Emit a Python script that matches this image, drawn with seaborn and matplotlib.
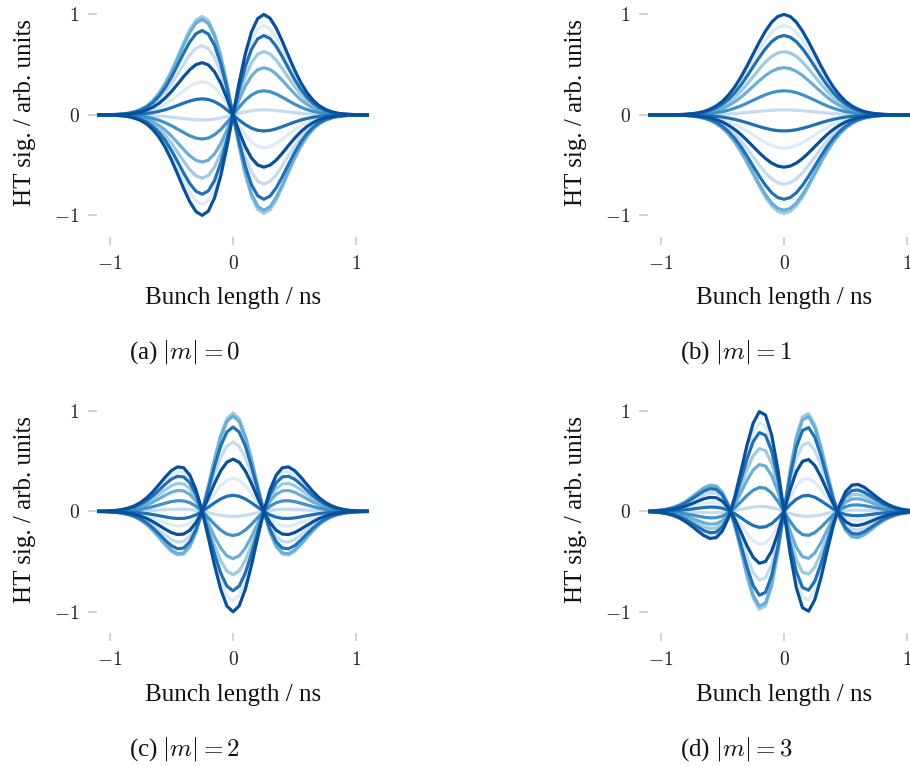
import matplotlib
matplotlib.use("Agg")
import numpy as np
import pandas as pd
import matplotlib.pyplot as plt
import seaborn as sns

# bunch length grid / ns
bunch_len = [-1.10, -1.05, -1.00, -0.95, -0.90, -0.85, -0.80, -0.75, -0.70, -0.65, -0.60,
             -0.55, -0.50, -0.45, -0.40, -0.35, -0.30, -0.25, -0.20, -0.15, -0.10, -0.05,
             0.00, 0.05, 0.10, 0.15, 0.20, 0.25, 0.30, 0.35, 0.40, 0.45, 0.50, 0.55,
             0.60, 0.65, 0.70, 0.75, 0.80, 0.85, 0.90, 0.95, 1.00, 1.05, 1.10]

# head-tail mode shapes (unit amplitude)
ht_m0 = [0.000, -0.001, -0.002, -0.005, -0.009, -0.017, -0.032, -0.055, -0.091, -0.146, -0.222,
         -0.322, -0.446, -0.587, -0.733, -0.866, -0.963, -1.000, -0.958, -0.826, -0.609, -0.323,
         0.000, 0.323, 0.609, 0.826, 0.958, 1.000, 0.963, 0.866, 0.733, 0.587, 0.446, 0.322,
         0.222, 0.146, 0.091, 0.055, 0.032, 0.017, 0.009, 0.005, 0.002, 0.001, 0.000]
ht_m1 = [0.000, 0.000, 0.000, 0.001, 0.002, 0.003, 0.006, 0.011, 0.020, 0.034, 0.056,
         0.089, 0.135, 0.198, 0.278, 0.375, 0.487, 0.607, 0.726, 0.835, 0.923, 0.980,
         1.000, 0.980, 0.923, 0.835, 0.726, 0.607, 0.487, 0.375, 0.278, 0.198, 0.135, 0.089,
         0.056, 0.034, 0.020, 0.011, 0.006, 0.003, 0.002, 0.001, 0.000, 0.000, 0.000]
ht_m2 = [0.001, 0.002, 0.005, 0.010, 0.018, 0.033, 0.055, 0.089, 0.135, 0.196, 0.267,
         0.341, 0.406, 0.443, 0.434, 0.360, 0.214, 0.000, -0.261, -0.535, -0.775, -0.941,
         -1.000, -0.941, -0.775, -0.535, -0.261, 0.000, 0.214, 0.360, 0.434, 0.443, 0.406, 0.341,
         0.267, 0.196, 0.135, 0.089, 0.055, 0.033, 0.018, 0.010, 0.005, 0.002, 0.001]
ht_m3 = [-0.003, -0.007, -0.013, -0.023, -0.040, -0.065, -0.100, -0.145, -0.194, -0.241, -0.269,
         -0.261, -0.196, -0.062, 0.142, 0.396, 0.660, 0.879, 0.993, 0.959, 0.760, 0.420,
         0.000, -0.420, -0.760, -0.959, -0.993, -0.879, -0.660, -0.396, -0.142, 0.062, 0.196, 0.261,
         0.269, 0.241, 0.194, 0.145, 0.100, 0.065, 0.040, 0.023, 0.013, 0.007, 0.003]

# turn-by-turn amplitudes and the palette shade used for each (0 light .. 6 dark)
amplitudes = [1.00, 0.89, 0.79, 0.63, 0.47, 0.24, 0.05, -0.16, -0.33, -0.52, -0.69, -0.84, -0.95, -0.98]
shade_idx = [6, 0, 5, 2, 3, 4, 1, 5, 0, 6, 1, 5, 3, 2]

panel_modes = [ht_m0, ht_m1, ht_m2, ht_m3]
captions = ["(a) $|m| = 0$", "(b) $|m| = 1$", "(c) $|m| = 2$", "(d) $|m| = 3$"]

sns.set_theme(style="white")
plt.rcParams['font.family'] = ['Liberation Serif', 'DejaVu Serif']
plt.rcParams['mathtext.fontset'] = 'cm'

blues = sns.color_palette("Blues", 7)
order = sorted(range(len(amplitudes)), key=lambda i: shade_idx[i])

W, H = 910, 767
fig = plt.figure(figsize=(W / 100, H / 100), dpi=100)

# pixel geometry of panel (a); others are shifted copies
ax_w, ax_h = 271.2, 221.0
col_shift, row_shift = 551.0, 396.5
tick_col = '#d2d5cf'

for p, mode in enumerate(panel_modes):
    dx = col_shift * (p % 2)
    dy = row_shift * (p // 2)
    left, top = 97.4 + dx, 4.4 + dy
    ax = fig.add_axes([left / W, 1 - (top + ax_h) / H, ax_w / W, ax_h / H])

    rows = []
    for i in order:
        for xv, yv in zip(bunch_len, mode):
            rows.append({'x': xv, 'sig': amplitudes[i] * yv, 'curve': f"c{i:02d}"})
    df = pd.DataFrame(rows)
    hue_order = [f"c{i:02d}" for i in order]
    pal = [blues[shade_idx[i]] for i in order]
    sns.lineplot(data=df, x='x', y='sig', hue='curve', hue_order=hue_order,
                 palette=pal, lw=2.3, legend=False, estimator=None, sort=False, ax=ax)

    ax.set_xlim(-1.1, 1.1)
    ax.set_ylim(-1.1, 1.1)
    ax.set_xticks([-1, 0, 1])
    ax.set_xticklabels(['$-1$', '$0$', '$1$'])
    ax.set_yticks([-1, 0, 1])
    ax.set_yticklabels(['$-1$', '$0$', '$1$'])
    ax.set_xlabel('')
    ax.set_ylabel('')
    for s in ax.spines.values():
        s.set_visible(False)
    ax.spines['bottom'].set_position(('outward', 8.3))
    ax.tick_params(axis='x', bottom=True, length=5.8, width=1.5, color=tick_col,
                   direction='out', pad=7, labelsize=14, labelcolor='#222222')
    ax.tick_params(axis='y', left=True, length=6.8, width=1.5, color=tick_col,
                   direction='out', pad=6, labelsize=14, labelcolor='#222222')
    ax.patch.set_alpha(0)

    zero_x = 233.0 + dx
    fig.text(zero_x / W, 1 - (304 + dy) / H, 'Bunch length / ns', ha='center',
             va='baseline', fontsize=18, color='#111111')
    fig.text((25 + dx) / W, 1 - (113 + dy) / H, 'HT sig. / arb. units', ha='center',
             va='center', rotation=90, fontsize=18, color='#111111')
    fig.text((185 + dx) / W, 1 - (359 + dy) / H, captions[p], ha='center',
             va='baseline', fontsize=18, color='#111111')

fig.savefig('out.png', dpi=100)
